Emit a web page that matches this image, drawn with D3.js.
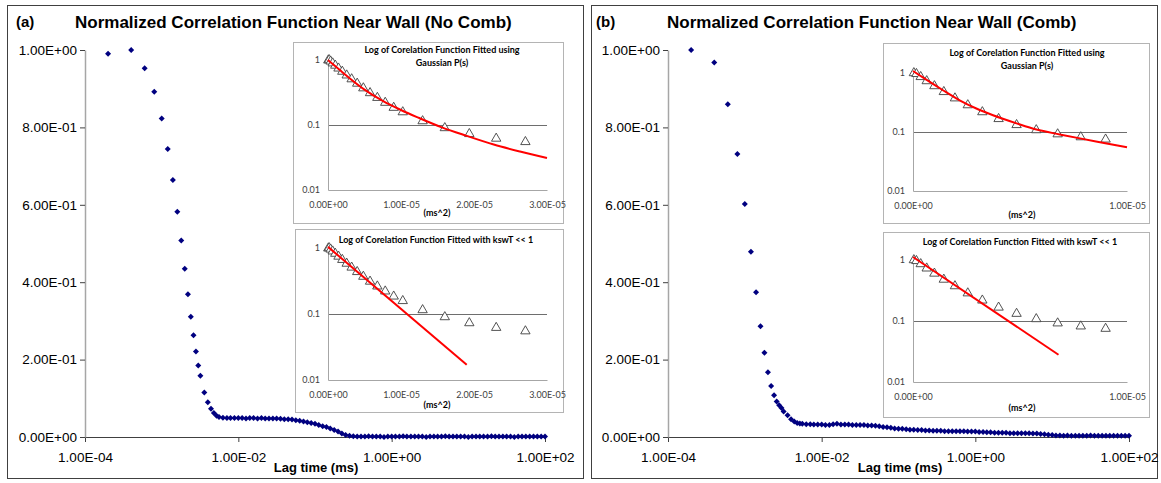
<!DOCTYPE html>
<html>
<head>
<meta charset="utf-8">
<script src="https://cdn.jsdelivr.net/npm/d3@7/dist/d3.min.js"></script>
<style>
  body { margin: 0; background: #fff; }
  svg text { font-family: "Liberation Sans", Arial, sans-serif; }
  .inset text { font-family: Lato, "Noto Sans", sans-serif; }
</style>
</head>
<body>
<svg id="graf" width="1161" height="483"></svg>
<script>
// lag times (ms), same grid for both runs
const lagMs = [
  0.0002, 0.0004, 0.0006, 0.0008, 0.001, 0.0012, 0.0014, 0.0016, 0.0018, 0.002,
  0.0022, 0.0024, 0.0026, 0.0028, 0.003, 0.0032, 0.0036, 0.004, 0.0044, 0.0048, 0.0052,
  0.0056, 0.0063, 0.0071, 0.0079, 0.0089,
  0.01, 0.0112, 0.0126, 0.0141, 0.0158, 0.0178, 0.02, 0.0224, 0.0251, 0.0282,
  0.0316, 0.0355, 0.0398, 0.0447, 0.0501, 0.0562, 0.0631, 0.0708, 0.0794, 0.0891,
  0.1, 0.112, 0.126, 0.141, 0.158, 0.178, 0.2, 0.224, 0.251, 0.282,
  0.316, 0.355, 0.398, 0.447, 0.501, 0.562, 0.631, 0.708, 0.794, 0.891,
  1, 1.12, 1.26, 1.41, 1.58, 1.78, 2, 2.24, 2.51, 2.82,
  3.16, 3.55, 3.98, 4.47, 5.01, 5.62, 6.31, 7.08, 7.94, 8.91,
  10, 11.2, 12.6, 14.1, 15.8, 17.8, 20, 22.4, 25.1, 28.2,
  31.6, 35.5, 39.8, 44.7, 50.1, 56.2, 63.1, 70.8, 79.4, 89.1,
  100
]

// (a) no comb
const corrNoComb = [
  0.99, 1.0, 0.953, 0.892, 0.823, 0.744, 0.664, 0.582, 0.508, 0.435,
  0.369, 0.311, 0.263, 0.221, 0.185, 0.158, 0.115, 0.090, 0.073, 0.062, 0.055,
  0.052, 0.050, 0.049, 0.049, 0.049,
  0.049, 0.049, 0.048, 0.049, 0.049, 0.048, 0.049, 0.048, 0.048, 0.048,
  0.048, 0.047, 0.046, 0.046, 0.045, 0.043, 0.042, 0.040, 0.038, 0.036,
  0.034, 0.031, 0.028, 0.026, 0.022, 0.018, 0.014, 0.009, 0.005, 0.003,
  0.002, 0.001, 0.001, 0.001, 0.002, 0.001, 0.001, 0.001, 0.000, 0.001,
  0.001, 0.001, 0.001, 0.002, 0.001, 0.001, 0.001, 0.001, 0.001, 0.000,
  0.001, 0.001, 0.001, 0.001, 0.002, 0.001, 0.001, 0.001, 0.001, 0.001,
  0.000, 0.001, 0.001, 0.001, 0.001, 0.001, 0.002, 0.001, 0.001, 0.001,
  0.001, 0.001, 0.000, 0.001, 0.001, 0.001, 0.001, 0.001, 0.001, 0.001,
  0.001
]

// (b) comb
const corrComb = [
  1.0, 0.968, 0.860, 0.731, 0.602, 0.479, 0.374, 0.286, 0.218, 0.167,
  0.132, 0.108, 0.092, 0.082, 0.075, 0.066, 0.056, 0.046, 0.040, 0.036, 0.035,
  0.034, 0.033, 0.033, 0.032, 0.032,
  0.032, 0.031, 0.031, 0.033, 0.034, 0.032, 0.032, 0.032, 0.031, 0.031,
  0.031, 0.031, 0.030, 0.030, 0.029, 0.028, 0.026, 0.025, 0.024, 0.022,
  0.021, 0.021, 0.020, 0.019, 0.019, 0.018, 0.018, 0.017, 0.017, 0.016,
  0.016, 0.016, 0.015, 0.015, 0.015, 0.015, 0.015, 0.015, 0.014, 0.014,
  0.014, 0.013, 0.013, 0.012, 0.012, 0.011, 0.011, 0.011, 0.011, 0.010,
  0.010, 0.010, 0.010, 0.010, 0.010, 0.009, 0.009, 0.008, 0.007, 0.006,
  0.005, 0.004, 0.004, 0.003, 0.004, 0.003, 0.003, 0.003, 0.003, 0.003,
  0.004, 0.003, 0.003, 0.003, 0.003, 0.003, 0.003, 0.003, 0.003, 0.003,
  0.003
]

// fitted curves of the insets (x in ms^2)
const gaussFitNoCombX = [0, 1.5e-6, 3e-6, 5e-6, 7.5e-6, 1e-5, 1.25e-5, 1.56e-5, 1.9e-5, 2.27e-5, 2.63e-5, 3e-5]
const gaussFitNoCombY = [1.0, 0.72, 0.52, 0.35, 0.235, 0.17, 0.128, 0.092, 0.068, 0.050, 0.039, 0.031]
const linFitNoCombX = [0, 1.9e-5]
const linFitNoCombY = [1.04, 0.017]
const gaussFitCombX = [0, 0.62e-6, 1.4e-6, 2.18e-6, 2.96e-6, 3.74e-6, 4.84e-6, 5.77e-6, 6.86e-6, 7.8e-6, 9.05e-6, 1e-5]
const gaussFitCombY = [1.08, 0.77, 0.51, 0.345, 0.25, 0.192, 0.14, 0.11, 0.091, 0.078, 0.064, 0.055]
const linFitCombX = [0, 6.8e-6]
const linFitCombY = [1.12, 0.028]

const yTicksMain = [0, 0.2, 0.4, 0.6, 0.8, 1.0]
const xTicksMain = [1e-4, 1e-2, 1e0, 1e2]
const logTicks = [0.01, 0.1, 1]
const insetTicksNoComb = [0, 1e-5, 2e-5, 3e-5]
const insetTicksComb = [0, 1e-5]

const gaussTitle = ['Log of Corelation Function Fitted using', 'Gaussian P(s)']
const linTitle = ['Log of Corelation Function Fitted with kswT << 1']

const svg = d3.select('#graf')

function sci(d) {
  if (d === 0) return '0.00E+00'
  const e = Math.floor(Math.log10(Math.abs(d)) + 1e-9)
  const m = d / Math.pow(10, e)
  return m.toFixed(2) + 'E' + (e < 0 ? '-' : '+') + String(Math.abs(e)).padStart(2, '0')
}

function panel(p) {
  const g = svg.append('g')

  g.append('rect')
    .attr('x', p.frame[0] + 0.5).attr('y', p.frame[1] + 0.5)
    .attr('width', p.frame[2]).attr('height', p.frame[3])
    .attr('fill', '#fff').attr('stroke', '#404040')

  g.append('text').attr('x', p.tagX).attr('y', 27)
    .attr('font-size', 15).attr('font-weight', 'bold').text(p.tag)
  g.append('text').attr('x', p.titleX).attr('y', 28)
    .attr('font-size', 17).attr('font-weight', 'bold').text(p.title)

  const x = d3.scaleLog().domain([1e-4, 1e2]).range([p.x0, p.x1])
  const y = d3.scaleLinear().domain([0, 1]).range([437, 50])

  const ax = g.append('g')
    .attr('transform', 'translate(0,437)')
    .call(d3.axisBottom(x).tickValues(xTicksMain).tickFormat(sci)
      .tickSizeInner(5).tickSizeOuter(0).tickPadding(10))
  ax.select('.domain').attr('stroke', '#404040')
  ax.selectAll('.tick line').attr('stroke', '#404040')
  ax.selectAll('text').attr('font-size', 13.5).attr('fill', '#000')
    .attr('font-family', '"Liberation Sans", Arial, sans-serif')

  const ay = g.append('g')
    .attr('transform', `translate(${p.x0},0)`)
    .call(d3.axisLeft(y).tickValues(yTicksMain).tickFormat(sci)
      .tickSizeInner(5).tickSizeOuter(0).tickPadding(3))
  ay.select('.domain').attr('stroke', '#a6a6a6').attr('stroke-width', 1.5)
  ay.selectAll('.tick line').attr('stroke', '#404040')
  ay.selectAll('text').attr('font-size', 13.5).attr('fill', '#000')
    .attr('font-family', '"Liberation Sans", Arial, sans-serif')

  g.append('text').attr('x', p.labelX).attr('y', 472)
    .attr('text-anchor', 'middle').attr('font-size', 13).attr('font-weight', 'bold')
    .text('Lag time (ms)')

  const pts = lagMs.map((t, i) => ({ t: t, v: p.values[i] }))
  g.append('g').selectAll('path')
    .data(pts)
    .join('path')
    .attr('d', d3.symbol(d3.symbolSquare, 18))
    .attr('transform', d => `translate(${x(d.t)},${y(d.v)}) rotate(45)`)
    .attr('fill', '#000080')

  p.insets.forEach(ins => inset(g, ins, pts))
}

function inset(parent, c, pts) {
  const g = parent.append('g').attr('class', 'inset')
  g.append('rect')
    .attr('x', c.box[0] + 0.5).attr('y', c.box[1] + 0.5)
    .attr('width', c.box[2]).attr('height', c.box[3])
    .attr('fill', '#fff').attr('stroke', '#b4b4b4')

  const x = d3.scaleLinear().domain([0, c.xMax]).range([c.x0, c.x1])
  const y = d3.scaleLog().domain([0.01, 1]).range([c.yBot, c.yTop])

  // gridline at 0.1
  g.append('line')
    .attr('x1', c.x0).attr('x2', c.x1)
    .attr('y1', Math.round(y(0.1)) + 0.5).attr('y2', Math.round(y(0.1)) + 0.5)
    .attr('stroke', '#6e6e6e')

  const ax = g.append('g')
    .attr('transform', `translate(0,${c.yBot})`)
    .call(d3.axisBottom(x).tickValues(c.ticks).tickFormat(sci).tickSize(0).tickPadding(12))
  ax.select('.domain').attr('stroke', '#a6a6a6')
  ax.selectAll('text').attr('font-size', 9).attr('fill', '#404040')

  const ay = g.append('g')
    .attr('transform', `translate(${c.x0},0)`)
    .call(d3.axisLeft(y).tickValues(logTicks).tickFormat(d3.format('~g')).tickSize(0).tickPadding(8))
  ay.select('.domain').attr('stroke', '#a6a6a6')
  ay.selectAll('text').attr('font-size', 9).attr('fill', '#404040')

  c.title.forEach((line, i) => {
    g.append('text').attr('x', c.titleX).attr('y', c.titleY + i * 12.5)
      .attr('text-anchor', 'middle').attr('font-size', 9).attr('font-weight', 'bold')
      .text(line)
  })
  g.append('text').attr('x', c.unitX).attr('y', c.unitY)
    .attr('text-anchor', 'middle').attr('font-size', 9).attr('font-weight', 'bold')
    .text('(ms^2)')

  const tri = pts.filter(d => d.t * d.t <= c.xMax)
  g.append('g').selectAll('path')
    .data(tri)
    .join('path')
    .attr('d', d3.symbol(d3.symbolTriangle, 38))
    .attr('transform', d => `translate(${x(d.t * d.t)},${y(d.v)})`)
    .attr('fill', '#fff').attr('stroke', '#404040').attr('stroke-width', 0.9)

  const fit = c.fitX.map((v, i) => [v, c.fitY[i]])
  g.append('path')
    .datum(fit)
    .attr('d', d3.line().x(d => x(d[0])).y(d => y(d[1])).curve(d3.curveMonotoneX))
    .attr('fill', 'none').attr('stroke', '#ff0000').attr('stroke-width', 2)
}

panel({
  frame: [7, 5, 576, 473], tag: '(a)', tagX: 16, titleX: 75,
  title: 'Normalized Correlation Function Near Wall (No Comb)',
  x0: 85, x1: 545, labelX: 316, values: corrNoComb,
  insets: [
    { box: [293, 42, 270, 181], x0: 328, x1: 547, yTop: 60, yBot: 190, xMax: 3e-5,
      ticks: insetTicksNoComb, title: gaussTitle, titleX: 442, titleY: 53,
      unitX: 437, unitY: 216, fitX: gaussFitNoCombX, fitY: gaussFitNoCombY },
    { box: [295, 229, 268, 183], x0: 328, x1: 547, yTop: 248, yBot: 380, xMax: 3e-5,
      ticks: insetTicksNoComb, title: linTitle, titleX: 436, titleY: 243,
      unitX: 437, unitY: 408, fitX: linFitNoCombX, fitY: linFitNoCombY }
  ]
})

panel({
  frame: [591, 5, 566, 473], tag: '(b)', tagX: 596, titleX: 667,
  title: 'Normalized Correlation Function Near Wall (Comb)',
  x0: 668, x1: 1129, labelX: 900, values: corrComb,
  insets: [
    { box: [883, 43, 266, 180], x0: 913, x1: 1127, yTop: 73, yBot: 191, xMax: 1e-5,
      ticks: insetTicksComb, title: gaussTitle, titleX: 1027, titleY: 56,
      unitX: 1022, unitY: 218, fitX: gaussFitCombX, fitY: gaussFitCombY },
    { box: [883, 232, 266, 185], x0: 913, x1: 1127, yTop: 260, yBot: 382, xMax: 1e-5,
      ticks: insetTicksComb, title: linTitle, titleX: 1020, titleY: 245,
      unitX: 1022, unitY: 411, fitX: linFitCombX, fitY: linFitCombY }
  ]
})
</script>
</body>
</html>
